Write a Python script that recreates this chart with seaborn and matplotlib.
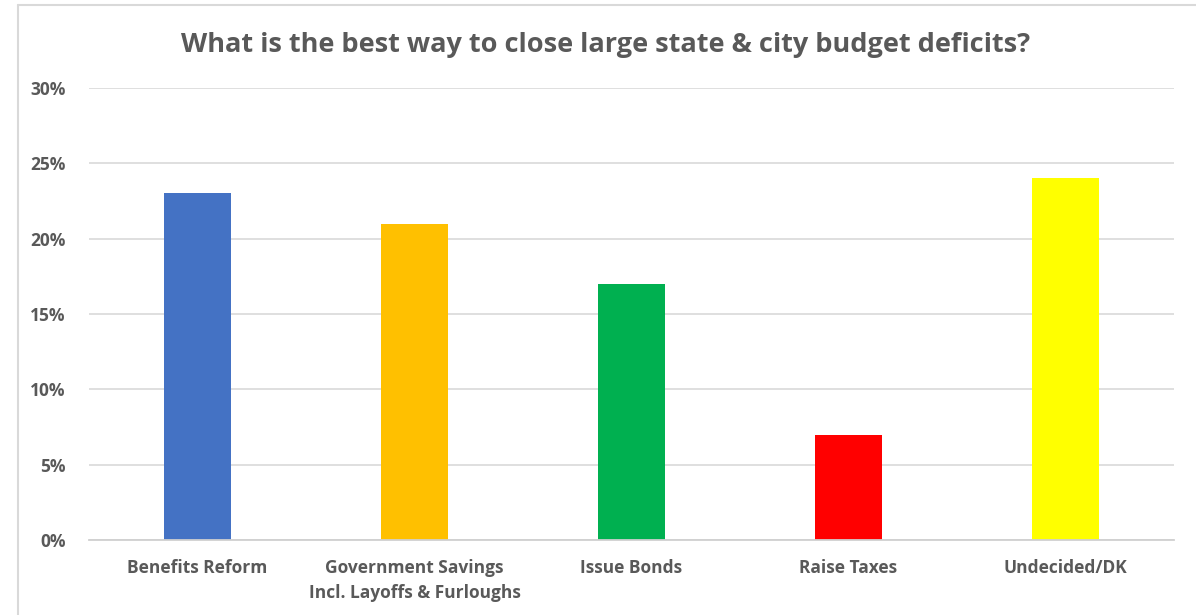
import matplotlib
matplotlib.use("Agg")
import matplotlib.pyplot as plt
import seaborn as sns
import pandas as pd
from matplotlib.lines import Line2D
from matplotlib.ticker import PercentFormatter

# Survey answers and shares (percent)
categories = ["Benefits Reform", "Government Savings\nIncl. Layoffs & Furloughs",
              "Issue Bonds", "Raise Taxes", "Undecided/DK"]
shares = [23, 21, 17, 7, 24]
bar_colors = ["#4472C4", "#FFC000", "#00B050", "#FF0000", "#FFFF00"]
y_ticks = [0, 5, 10, 15, 20, 25, 30]

sns.set_theme(style="white")
plt.rcParams['font.family'] = ['Open Sans', 'DejaVu Sans']

df = pd.DataFrame({'Answer': categories, 'Share': shares})

fig = plt.figure(figsize=(11.96, 6.15), dpi=100)
ax = fig.add_axes([89 / 1196, 1 - 540 / 615, (1174 - 89) / 1196, (540 - 88) / 615])

sns.barplot(data=df, x='Answer', y='Share', hue='Answer', palette=bar_colors,
            width=0.31, legend=False, ax=ax, saturation=1, linewidth=0)

ax.set_ylim(0, 30)
ax.set_yticks(y_ticks)
ax.yaxis.set_major_formatter(PercentFormatter(decimals=0))
ax.grid(axis='y', color='#d9d9d9', linewidth=1.2)
ax.set_axisbelow(True)
for side in ['top', 'right', 'left']:
    ax.spines[side].set_visible(False)
ax.spines['bottom'].set_color('#d0d0d0')
ax.spines['bottom'].set_linewidth(1.3)
ax.tick_params(axis='both', length=0, colors='#595959')
ax.tick_params(axis='y', pad=17, labelsize=12.5)
ax.tick_params(axis='x', pad=14, labelsize=12.5)
for lbl in ax.get_xticklabels() + ax.get_yticklabels():
    lbl.set_fontweight('bold')
    lbl.set_linespacing(1.45)
ax.set_xlabel('')
ax.set_ylabel('')

fig.suptitle('What is the best way to close large state & city budget deficits?',
             x=0.506, y=1 - 45 / 615, va='center', fontsize=19.5, fontweight='bold',
             color='#595959')

# slide frame lines
fig.add_artist(Line2D([18 / 1196, 18 / 1196], [0, 1 - 5 / 615], transform=fig.transFigure,
                      color='#d9d9d9', linewidth=1.5))
fig.add_artist(Line2D([18 / 1196, 1], [1 - 5 / 615, 1 - 5 / 615], transform=fig.transFigure,
                      color='#d9d9d9', linewidth=1.5))

fig.savefig('out.png', dpi=100, facecolor='white')
plt.close()
